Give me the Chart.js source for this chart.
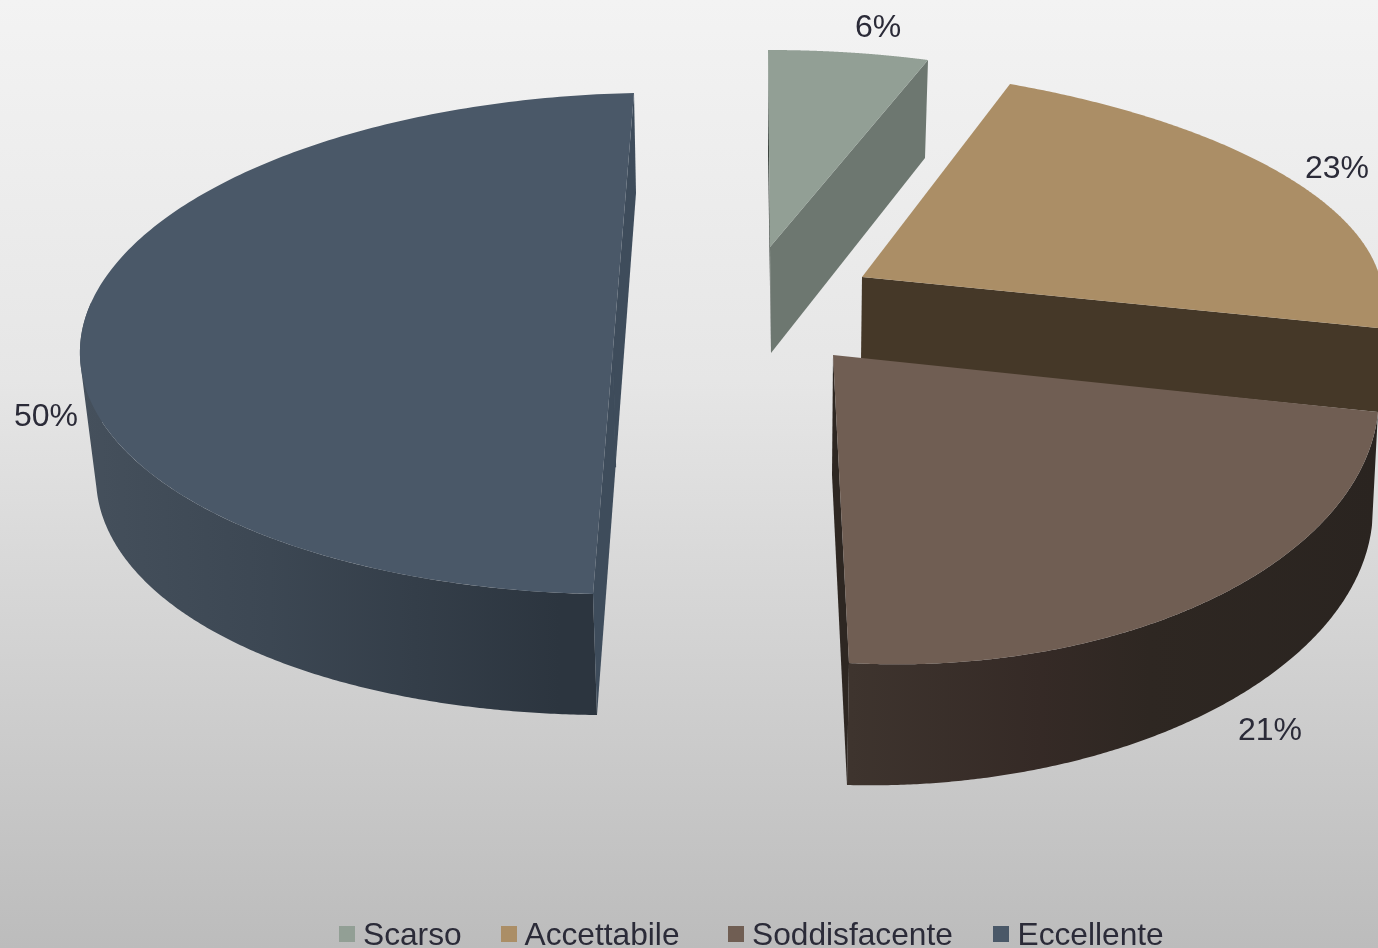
<!DOCTYPE html>
<html><head><meta charset="utf-8">
<script src="https://cdn.jsdelivr.net/npm/chart.js@4/dist/chart.umd.min.js"></script>
<style>html,body{margin:0;padding:0;background:#bcbcbc;overflow:hidden}canvas{display:block}</style>
</head><body><canvas id="c" width="1378" height="948"></canvas>
<script>
const categories = ["Scarso","Accettabile","Soddisfacente","Eccellente"];
const values = [6,23,21,50];
const topColors = ["#929f95","#ab8e66","#705e53","#4a5868"];

// Perspective of each exploded slice. Each anchor: [fraction along the slice's arc (null = centre), x, y]
const topAnchors = [
  [[null,770,247],[0,768,50],[1,928,60],[0.5,849.5,52.5]],
  [[null,862,277],[0,1010,84],[1,1378,328],[0.5,1303,187]],
  [[null,833,355],[0,1378,412],[1,849,663],[0.5,1210,600]],
  [[0,593,594],[0.25,222,517],[0.5,80,348],[1,634,93]]
];
const bottomAnchors = [
  [[null,771,353],[0,768,155],[1,925,158],[0.5,848,153]],
  [[null,861,360],[0,1009,170],[1,1378,412],[0.5,1302,271]],
  [[null,832,475],[0,1372,525],[1,847,785],[0.5,1207,713]],
  [[0,597,715],[0.25,240,645],[0.5,96,480],[1,636,193]]
];
const wallStops = [
  null,
  null,
  [[850,"#3e342e"],[1040,"#352a26"],[1150,"#2e2722"],[1378,"#2a2420"]],
  [[80,"#45505c"],[270,"#3c4753"],[560,"#2c353f"],[600,"#2c353f"]]
];
const wallVisibleTo = [0,0,1,0.56];
const startFaces = ["#3d4540",null,null,"#3e4c5b"];
const endFaces = ["#6d7770","#453828","#2e2722","#3e4c5b"];
const drawOrder = [0,1,3,2];
const labelPositions = [[878,28],[1337,169],[1270,731],[46,417]];
const legendBoxX = [339,501,728,993];
const legendTextX = [363,524.5,752,1017.5];
const textColor = "#2b2b38";
const fontFamily = '"Liberation Sans", Arial, sans-serif';

function solve(A,b){
  const n=b.length;
  for(let i=0;i<n;i++){
    let p=i;for(let r=i+1;r<n;r++)if(Math.abs(A[r][i])>Math.abs(A[p][i]))p=r;
    [A[i],A[p]]=[A[p],A[i]];[b[i],b[p]]=[b[p],b[i]];
    for(let r=i+1;r<n;r++){const f=A[r][i]/A[i][i];
      for(let c=i;c<n;c++)A[r][c]-=f*A[i][c];b[r]-=f*b[i];}
  }
  const x=new Array(n);
  for(let i=n-1;i>=0;i--){let s=b[i];for(let c=i+1;c<n;c++)s-=A[i][c]*x[c];x[i]=s/A[i][i];}
  return x;
}
function homography(anchors,s,e){
  const A=[],b=[];
  anchors.forEach(([f,X,Y])=>{
    const ang=s+(e-s)*f;
    const u=f===null?0:Math.cos(ang), v=f===null?0:Math.sin(ang);
    A.push([u,v,1,0,0,0,-u*X,-v*X]);b.push(X);
    A.push([0,0,0,u,v,1,-u*Y,-v*Y]);b.push(Y);
  });
  return solve(A,b);
}
function project(h,u,v){
  const w=h[6]*u+h[7]*v+1;
  return [(h[0]*u+h[1]*v+h[2])/w,(h[3]*u+h[4]*v+h[5])/w];
}
const rim=(h,ang)=>project(h,Math.cos(ang),Math.sin(ang));
const area=p=>p.reduce((t,q,n)=>{const r=p[(n+1)%p.length];return t+q[0]*r[1]-r[0]*q[1];},0);

const pie3d = {
  id:"pie3d",
  beforeDraw(chart){
    const {ctx,width,height}=chart;
    const g=ctx.createLinearGradient(0,0,0,height);
    g.addColorStop(0,"#f3f3f3");g.addColorStop(0.4,"#e6e6e6");g.addColorStop(1,"#bcbcbc");
    ctx.fillStyle=g;ctx.fillRect(0,0,width,height);
  },
  beforeDatasetDraw(chart,args){
    const ctx=chart.ctx, arcs=args.meta.data;
    drawOrder.forEach(i=>{
      const arc=arcs[i];
      const {startAngle:s,endAngle:e}=arc.getProps(["startAngle","endAngle"],true);
      const T=homography(topAnchors[i],s,e), B=homography(bottomAnchors[i],s,e);
      const N=240;
      // outer wall: ruled strips from top rim to bottom rim, filled once as a union
      const stops=wallStops[i];
      if(stops){
        const x0=stops[0][0],x1=stops[stops.length-1][0];
        const g=ctx.createLinearGradient(x0,0,x1,0);
        stops.forEach(([x,col])=>g.addColorStop((x-x0)/(x1-x0),col));
        ctx.fillStyle=g;ctx.beginPath();
        const end=s+(e-s)*wallVisibleTo[i];
        for(let k=0;k<N;k++){
          const a0=s+(end-s)*k/N,a1=s+(end-s)*(k+1)/N;
          let p=[rim(T,a0),rim(T,a1),rim(B,a1),rim(B,a0)];
          if(area(p)<0)p=p.reverse();
          p.forEach((q,n)=>n?ctx.lineTo(q[0],q[1]):ctx.moveTo(q[0],q[1]));ctx.closePath();
        }
        ctx.fill("nonzero");
      }
      // radial cut faces
      const ct=project(T,0,0),cb=project(B,0,0);
      const face=(ang,col)=>{ if(!col)return;
        const a=rim(T,ang),b=rim(B,ang);
        ctx.fillStyle=col;ctx.beginPath();
        ctx.moveTo(ct[0],ct[1]);ctx.lineTo(a[0],a[1]);ctx.lineTo(b[0],b[1]);ctx.lineTo(cb[0],cb[1]);ctx.closePath();ctx.fill();
      };
      face(s,startFaces[i]);face(e,endFaces[i]);
      if(startFaces[i]&&startFaces[i]===endFaces[i]){
        ctx.strokeStyle=endFaces[i];ctx.lineWidth=1.2;ctx.beginPath();
        ctx.moveTo(ct[0],ct[1]);ctx.lineTo(cb[0],cb[1]);ctx.stroke();
      }
      // top surface of the library's arc, in perspective
      ctx.fillStyle=arc.options.backgroundColor;ctx.beginPath();ctx.moveTo(ct[0],ct[1]);
      for(let k=0;k<=N;k++){const p=rim(T,s+(e-s)*k/N);ctx.lineTo(p[0],p[1]);}
      ctx.closePath();ctx.fill();
    });
    return false;
  },
  afterDraw(chart){
    const ctx=chart.ctx;
    ctx.save();
    ctx.fillStyle=textColor;
    ctx.font='32px '+fontFamily;
    ctx.textAlign="center";ctx.textBaseline="middle";
    values.forEach((v,i)=>ctx.fillText(v+"%",labelPositions[i][0],labelPositions[i][1]));
    ctx.font='31.7px '+fontFamily;
    ctx.textAlign="left";ctx.textBaseline="alphabetic";
    categories.forEach((n,i)=>{
      ctx.fillStyle=topColors[i];ctx.fillRect(legendBoxX[i],926,16,16);
      ctx.fillStyle=textColor;ctx.fillText(n,legendTextX[i],945);
    });
    ctx.restore();
  }
};

new Chart(document.getElementById("c"),{
  type:"pie",
  data:{labels:categories,datasets:[{data:values,backgroundColor:topColors,borderWidth:0}]},
  options:{responsive:false,animation:false,rotation:0,
    plugins:{legend:{display:false},tooltip:{enabled:false}}},
  plugins:[pie3d]
});
</script></body></html>
